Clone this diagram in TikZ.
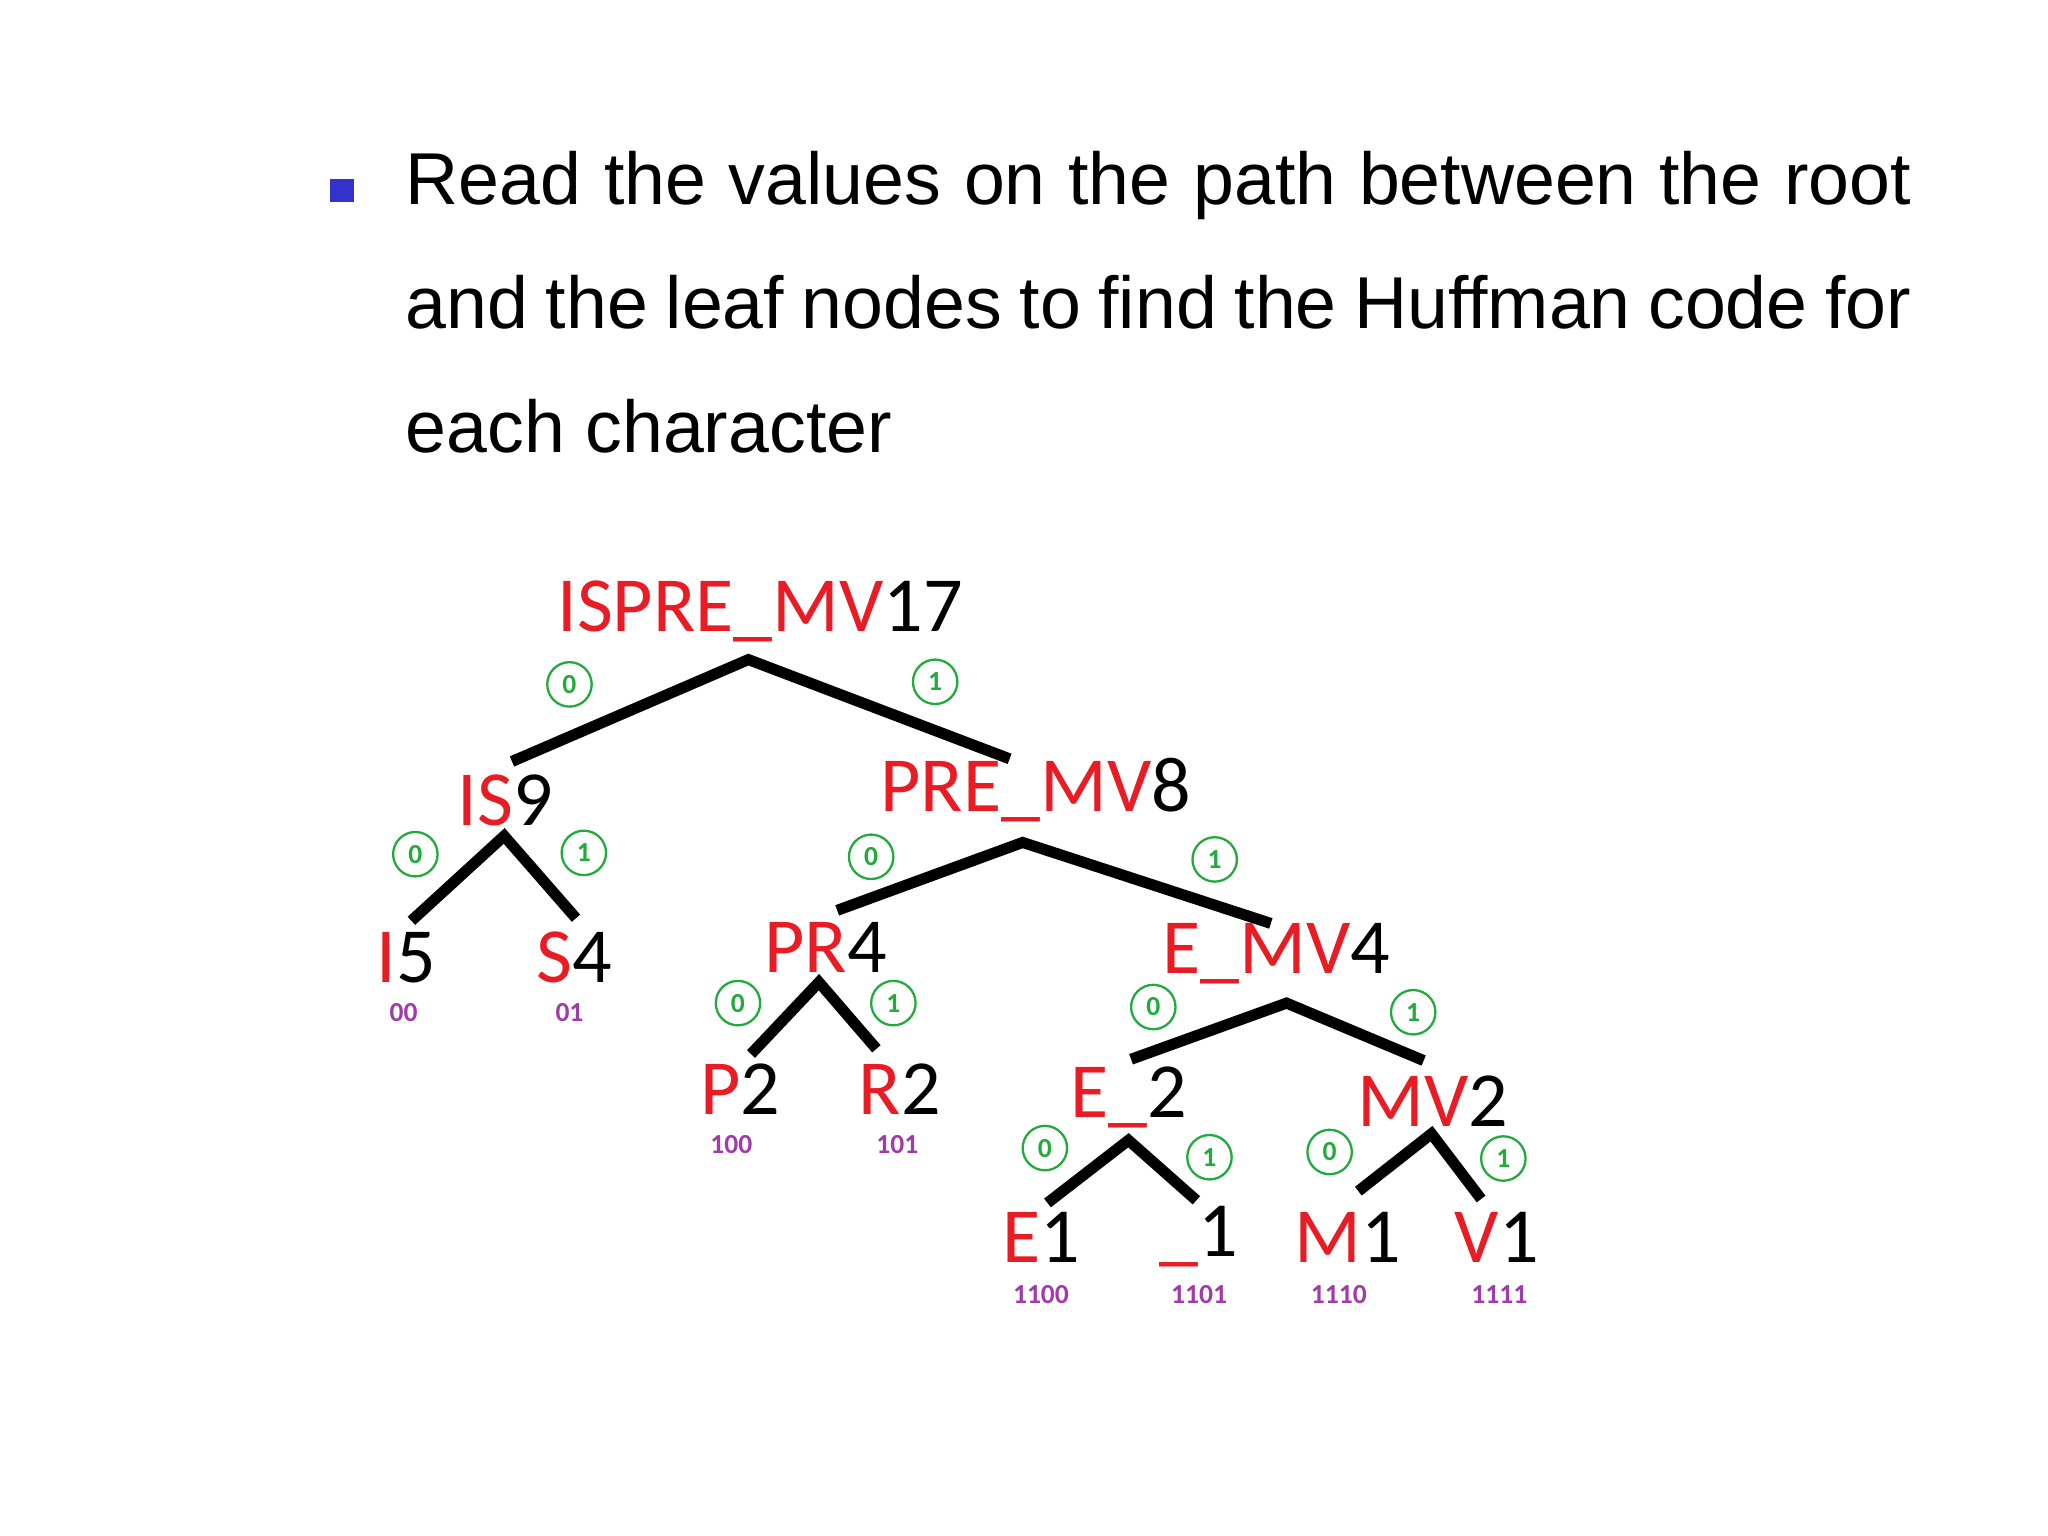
\documentclass[tikz,border=0pt]{standalone}
\usepackage{fontspec}
\setmainfont{Liberation Sans}
\newfontfamily\carlitofont{Carlito}
\definecolor{hred}{RGB}{232,28,36}
\definecolor{hgreen}{RGB}{34,170,60}
\definecolor{hpurp}{RGB}{160,60,170}
\definecolor{hblue}{RGB}{51,51,204}
\begin{document}
\begin{tikzpicture}[x=0.01cm,y=-0.01cm,
  lab/.style={font=\carlitofont\fontsize{17}{17}\selectfont,inner sep=0pt,anchor=center},
  bit/.style={circle,draw=hgreen,text=hgreen,line width=0.5pt,minimum size=0.34cm,inner sep=0pt,font=\carlitofont\fontsize{6}{6}\selectfont\bfseries},
  code/.style={text=hpurp,font=\carlitofont\fontsize{6}{6}\selectfont\bfseries,inner sep=0pt},
  edge/.style={line width=2.4pt,black}]
\useasboundingbox (0,0) rectangle (1568,1176);
\fill[hblue] (253,137) rectangle (271,155);
\node[anchor=north west,text width=11.52cm,align=justify,inner sep=0pt,font=\fontsize{16}{27}\selectfont] (txt) at (310,115)
{Read the values on the path between the root\linebreak and the leaf nodes to find the Huffman code for\linebreak each character};
\newcommand\lb[3]{\node[lab] (#1) at (#2) {#3};}
\lb{root}{582,468}{\textcolor{hred}{ISPRE\_MV}17}
\lb{is}{387,613}{\textcolor{hred}{IS}9}
\lb{pm}{793,605}{\textcolor{hred}{PRE\_MV}8}
\lb{i}{311,733}{\textcolor{hred}{I}5}
\lb{s}{440,733}{\textcolor{hred}{S}4}
\lb{pr}{632,725}{\textcolor{hred}{PR}4}
\lb{em}{977,730}{\textcolor{hred}{E\_MV}4}
\lb{p}{567,834}{\textcolor{hred}{P}2}
\lb{r}{689,834}{\textcolor{hred}{R}2}
\lb{e2}{864,840}{\textcolor{hred}{E\_}2}
\lb{mv}{1097,843}{\textcolor{hred}{MV}2}
\lb{e}{797,947}{\textcolor{hred}{E}1}
\lb{u}{918,947}{\textcolor{hred}{\_}1}
\lb{m}{1032,947}{\textcolor{hred}{M}1}
\lb{v}{1146,947}{\textcolor{hred}{V}1}
\coordinate (a0) at (573,505); \coordinate (l0) at (392,583); \coordinate (r0) at (773,581);
\coordinate (a1) at (386,640); \coordinate (l1) at (315,705); \coordinate (r1) at (441,703);
\coordinate (a2) at (783,645); \coordinate (l2) at (641,697); \coordinate (r2) at (973,707);
\coordinate (a3) at (627,752); \coordinate (l3) at (575,807); \coordinate (r3) at (671,803);
\coordinate (a4) at (985,768); \coordinate (l4) at (866,811); \coordinate (r4) at (1090,812);
\coordinate (a5) at (864,873); \coordinate (l5) at (802,921); \coordinate (r5) at (916,919);
\coordinate (a6) at (1096,868); \coordinate (l6) at (1040,912); \coordinate (r6) at (1134,918);
\foreach \k in {0,...,6}{\draw[edge] (l\k) -- (a\k) -- (r\k);}
\foreach \n/\p/\b in {b1/{436,524}/0,b2/{716,522}/1,b3/{318,654}/0,b4/{447,653}/1,b5/{667,656}/0,b6/{930,658}/1,b7/{565,768}/0,b8/{684,768}/1,b9/{883,771}/0,b10/{1082,775}/1,b11/{800,879}/0,b12/{926,886}/1,b13/{1018,882}/0,b14/{1151,887}/1}
  {\node[bit] (\n) at (\p) {\b};}
\foreach \n/\p/\c in {c1/{309,775}/00,c2/{436,775}/01,c3/{560,876}/100,c4/{687,876}/101,c5/{797,991}/1100,c6/{918,991}/1101,c7/{1025,991}/1110,c8/{1148,991}/1111}
  {\node[code] (\n) at (\p) {\c};}
\end{tikzpicture}
\end{document}
